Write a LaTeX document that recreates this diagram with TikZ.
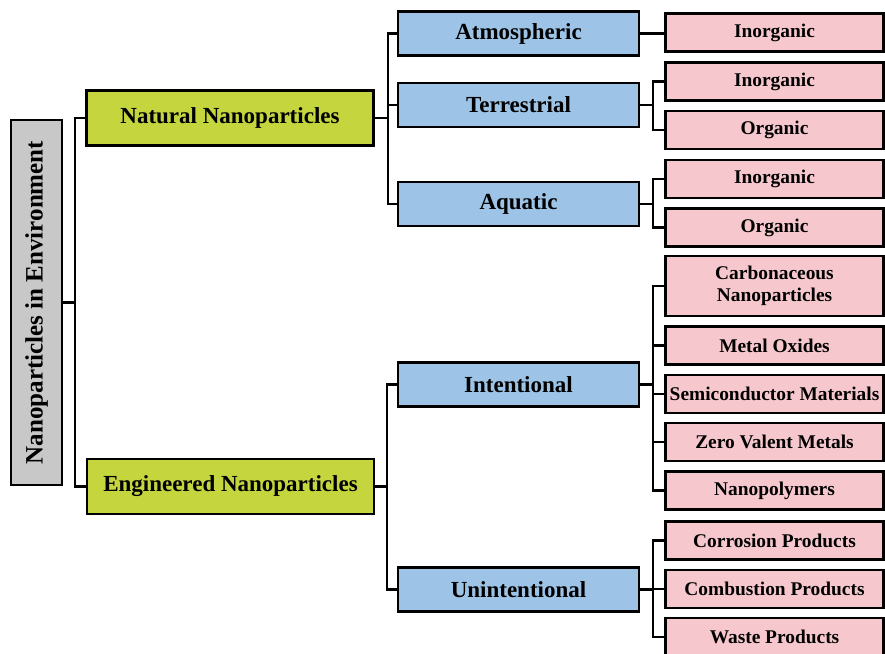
\documentclass[tikz,border=0pt]{standalone}
\usepackage{fontspec}
\setmainfont{Liberation Serif}
\definecolor{rootgray}{RGB}{200,200,200}
\definecolor{natgreen}{RGB}{197,213,62}
\definecolor{subblue}{RGB}{157,195,230}
\definecolor{leafpink}{RGB}{246,200,205}
\begin{document}
\begin{tikzpicture}[x=1pt,y=-1pt,
        box/.style={draw, line width=2.6pt, inner sep=0pt, font=\bfseries},
        rootbox/.style={box, fill=rootgray, minimum width=51pt, minimum height=365pt, font=\bfseries\fontsize{25}{27}\selectfont},
        mainbox/.style={box, fill=natgreen, minimum width=287pt, minimum height=55pt, font=\bfseries\fontsize{23}{25}\selectfont},
        subbox/.style={box, fill=subblue, minimum width=241pt, minimum height=44pt, font=\bfseries\fontsize{23}{25}\selectfont},
        leafbox/.style={box, fill=leafpink, minimum width=218pt, minimum height=38pt, align=center, font=\bfseries\fontsize{19.4}{22}\selectfont},
        link/.style={line width=2.3pt}]
    \useasboundingbox (0,0) rectangle (885,653);
    % root and the two main groups
    \node[rootbox] (root) at (36.5,302.5) {\rotatebox{90}{Nanoparticles in Environment}};
    \node[mainbox] (nat) at (230,118) {Natural Nanoparticles};
    \node[mainbox] (eng) at (230.5,486.5) {Engineered Nanoparticles};
    % second level
    \node[subbox] (atm) at (518.5,33.5) {Atmospheric};
    \node[subbox] (ter) at (518.5,105) {Terrestrial};
    \node[subbox] (aqu) at (518.5,204) {Aquatic};
    \node[subbox] (int) at (518.5,384.5) {Intentional};
    \node[subbox] (uni) at (518.5,589.5) {Unintentional};
    % leaves
    \node[leafbox] (atminorg) at (774.5,32.5) {Inorganic};
    \node[leafbox] (terinorg) at (774.5,81.5) {Inorganic};
    \node[leafbox] (terorg) at (774.5,130) {Organic};
    \node[leafbox] (aquinorg) at (774.5,179) {Inorganic};
    \node[leafbox] (aquorg) at (774.5,227.5) {Organic};
    \node[leafbox, minimum height=60pt] (carb) at (774.5,286) {Carbonaceous\\Nanoparticles};
    \node[leafbox] (metal) at (774.5,345.5) {Metal Oxides};
    \node[leafbox] (semi) at (774.5,394) {Semiconductor Materials};
    \node[leafbox] (zero) at (774.5,442) {Zero Valent Metals};
    \node[leafbox] (npoly) at (774.5,490.5) {Nanopolymers};
    \node[leafbox] (corr) at (774.5,540.5) {Corrosion Products};
    \node[leafbox] (comb) at (774.5,589) {Combustion Products};
    \node[leafbox] (waste) at (774.5,637) {Waste Products};

    % connectors
    \draw[link] (root.east) -- ++(12,0) coordinate (rb);
    \draw[link] (nat.west) -| (rb) |- (eng.west);
    \draw[link] (nat.east) -- ++(13,0) coordinate (nb);
    \draw[link] (atm.west) -| (nb) |- (aqu.west);
    \draw[link] (ter.west) -- (ter.west -| nb);
    \draw[link] (eng.east) -- ++(12,0) coordinate (eb);
    \draw[link] (int.west) -| (eb) |- (uni.west);

    \draw[link] (atm.east) -- (atm.east -| atminorg.west);
    \draw[link] (ter.east) -- ++(13,0) coordinate (tb);
    \draw[link] (terinorg.west) -| (tb) |- (terorg.west);
    \draw[link] (aqu.east) -- ++(13,0) coordinate (ab);
    \draw[link] (aquinorg.west) -| (ab) |- (aquorg.west);
    \draw[link] (int.east) -- ++(13,0) coordinate (ib);
    \draw[link] (carb.west) -| (ib) |- (npoly.west);
    \foreach \leaf in {metal,semi,zero}
        {
            \draw[link] (\leaf.west) -- (\leaf.west -| ib);
        }
    \draw[link] (uni.east) -- ++(13,0) coordinate (ub);
    \draw[link] (corr.west) -| (ub) |- (waste.west);
    \draw[link] (comb.west) -- (comb.west -| ub);
\end{tikzpicture}
\end{document}
